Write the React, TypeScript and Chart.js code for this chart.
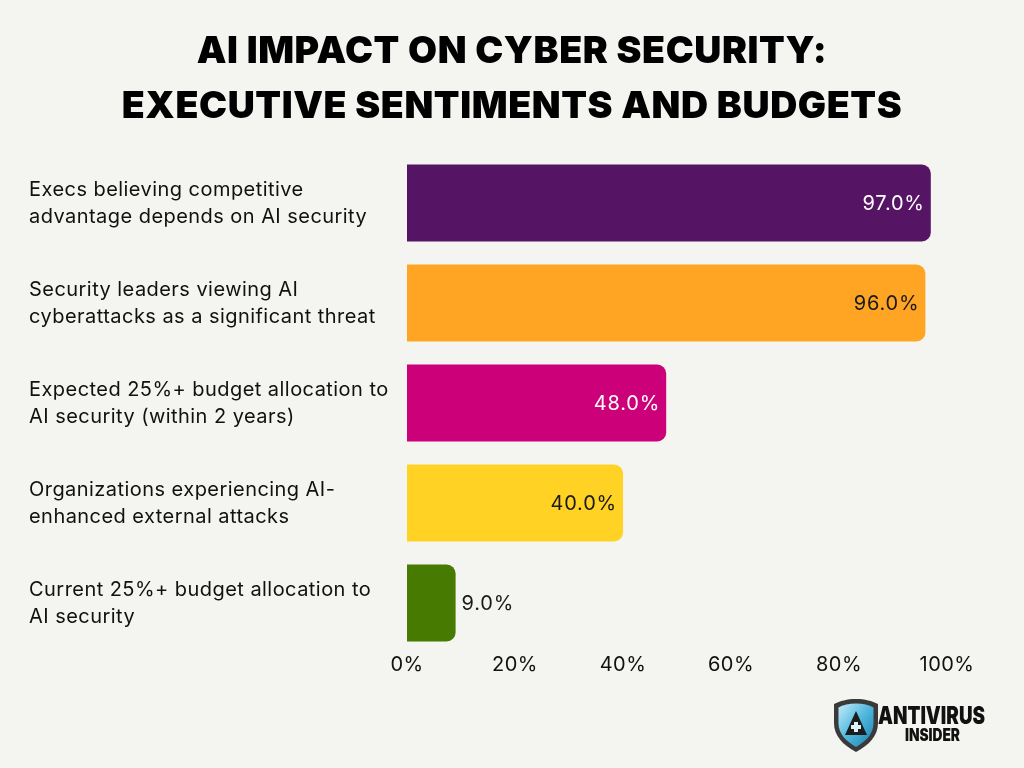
import React, { useEffect, useRef } from "react";
import { Chart, registerables } from "chart.js";

Chart.register(...registerables);

const titleLines = ["AI IMPACT ON CYBER SECURITY:", "EXECUTIVE SENTIMENTS AND BUDGETS"];

const categories: string[][] = [
  ["Execs believing competitive", "advantage depends on AI security"],
  ["Security leaders viewing AI", "cyberattacks as a significant threat"],
  ["Expected 25%+ budget allocation to", "AI security (within 2 years)"],
  ["Organizations experiencing AI-", "enhanced external attacks"],
  ["Current 25%+ budget allocation to", "AI security"],
];

const values = [97.0, 96.0, 48.0, 40.0, 9.0];

const barColors = ["#561464", "#FFA523", "#CC0079", "#FFD224", "#467A00"];
const labelColors = ["#FFFFFF", "#1a1a1a", "#FFFFFF", "#1a1a1a", "#1a1a1a"];

const xTicks = [0, 20, 40, 60, 80, 100];

const BG = "#F4F4F0";
const FONT = "Inter, 'Noto Sans', sans-serif";

// Slightly open tracking for all canvas text
const tracking = {
  id: "tracking",
  beforeLayout(chart: any) {
    chart.ctx.letterSpacing = "0.45px";
  },
  beforeDraw(chart: any) {
    chart.ctx.letterSpacing = "0.45px";
  },
};

// Two-line heading centred on the full canvas width
const heading = {
  id: "heading",
  afterDraw(chart: any) {
    const { ctx } = chart;
    ctx.save();
    ctx.font = `900 37.5px Inter, 'DejaVu Sans', sans-serif`;
    ctx.letterSpacing = "0.6px";
    ctx.fillStyle = "#000";
    ctx.textAlign = "center";
    ctx.textBaseline = "middle";
    titleLines.forEach((line, i) => {
      ctx.fillText(line, chart.width / 2, 52 + i * 55);
    });
    ctx.restore();
  },
};

// Value labels at the end of each bar: inside when there is room, outside otherwise
const valueLabels = {
  id: "valueLabels",
  afterDatasetsDraw(chart: any) {
    const { ctx } = chart;
    const meta = chart.getDatasetMeta(0);
    ctx.save();
    ctx.font = `400 20px ${FONT}`;
    ctx.letterSpacing = "0.8px";
    ctx.textBaseline = "middle";
    meta.data.forEach((bar: any, i: number) => {
      const text = values[i].toFixed(1) + "%";
      const w = ctx.measureText(text).width;
      const barLen = bar.x - bar.base;
      if (barLen > w + 20) {
        ctx.textAlign = "right";
        ctx.fillStyle = labelColors[i];
        ctx.fillText(text, bar.x - 6, bar.y + 1);
      } else {
        ctx.textAlign = "left";
        ctx.fillStyle = "#1a1a1a";
        ctx.fillText(text, bar.x + 6, bar.y + 1);
      }
    });
    ctx.restore();
  },
};

function Logo() {
  return (
    <svg
      width="160"
      height="60"
      viewBox="0 0 160 60"
      style={{ position: "absolute", left: 830, top: 696 }}
    >
      <defs>
        <linearGradient id="shieldFill" x1="0" x2="1" y1="0" y2="1">
          <stop offset="0" stopColor="#c4ecf9" />
          <stop offset="0.5" stopColor="#4fb8de" />
          <stop offset="1" stopColor="#1c7fae" />
        </linearGradient>
      </defs>
      <path
        d="M26 3 C17 3 10 5 4 8 L4 27 C4 40 13 49 26 56 C39 49 48 40 48 27 L48 8 C42 5 35 3 26 3 Z"
        fill="#3a3a3a"
      />
      <path
        d="M26 7.5 C19 7.5 13 9 8.5 11.5 L8.5 27 C8.5 38 16 45 26 51 C36 45 43.5 38 43.5 27 L43.5 11.5 C39 9 33 7.5 26 7.5 Z"
        fill="url(#shieldFill)"
      />
      <path d="M26 15 L15 39 L37 39 Z" fill="#1d1d1d" />
      <path d="M24 26 L28 26 L28 29 L31 29 L31 33 L28 33 L28 36 L24 36 L24 33 L21 33 L21 29 L24 29 Z" fill="#dff3fb" />
      <text
        x="48"
        y="28"
        fontFamily="Inter, 'DejaVu Sans', sans-serif"
        fontWeight="900"
        fontSize="24"
        fill="#111"
        textLength="107"
        lengthAdjust="spacingAndGlyphs"
      >
        ANTIVIRUS
      </text>
      <text
        x="75"
        y="45"
        fontFamily="Inter, 'DejaVu Sans', sans-serif"
        fontWeight="900"
        fontSize="17"
        fill="#111"
        textLength="55"
        lengthAdjust="spacingAndGlyphs"
      >
        INSIDER
      </text>
    </svg>
  );
}

export default function App() {
  const canvasRef = useRef<HTMLCanvasElement | null>(null);

  useEffect(() => {
    document.body.style.margin = "0";
    const canvas = canvasRef.current;
    if (!canvas) return;
    const chart = new Chart(canvas, {
      type: "bar",
      data: {
        labels: categories,
        datasets: [
          {
            data: values,
            backgroundColor: barColors,
            borderRadius: { topRight: 9, bottomRight: 9, topLeft: 0, bottomLeft: 0 },
            borderSkipped: false,
            barPercentage: 0.77,
            categoryPercentage: 1,
          },
        ],
      },
      options: {
        indexAxis: "y",
        animation: false,
        responsive: false,
        maintainAspectRatio: false,
        layout: { padding: { left: 29, right: 77, top: 153, bottom: 0 } },
        plugins: {
          legend: { display: false },
          tooltip: { enabled: false },
          title: { display: false },
        },
        scales: {
          x: {
            min: 0,
            max: 100,
            afterBuildTicks(scale: any) {
              scale.ticks = xTicks.map((v) => ({ value: v }));
            },
            afterFit(scale: any) {
              scale.height = 115;
            },
            grid: { display: false, drawTicks: false },
            border: { display: false },
            ticks: {
              color: "#111",
              padding: 0,
              font: { family: FONT, size: 20 },
              callback: (v: any) => v + "%",
            },
          },
          y: {
            afterFit(scale: any) {
              scale.width = 378;
            },
            grid: { display: false, drawTicks: false },
            border: { display: false },
            ticks: {
              crossAlign: "far",
              color: "#111",
              font: { family: FONT, size: 20, lineHeight: 1.35 },
            },
          },
        },
      },
      plugins: [tracking, heading, valueLabels],
    });
    return () => chart.destroy();
  }, []);

  return (
    <div style={{ position: "relative", width: 1024, height: 768, background: BG, overflow: "hidden" }}>
      <canvas ref={canvasRef} width={1024} height={768} style={{ display: "block" }} />
      <Logo />
    </div>
  );
}
